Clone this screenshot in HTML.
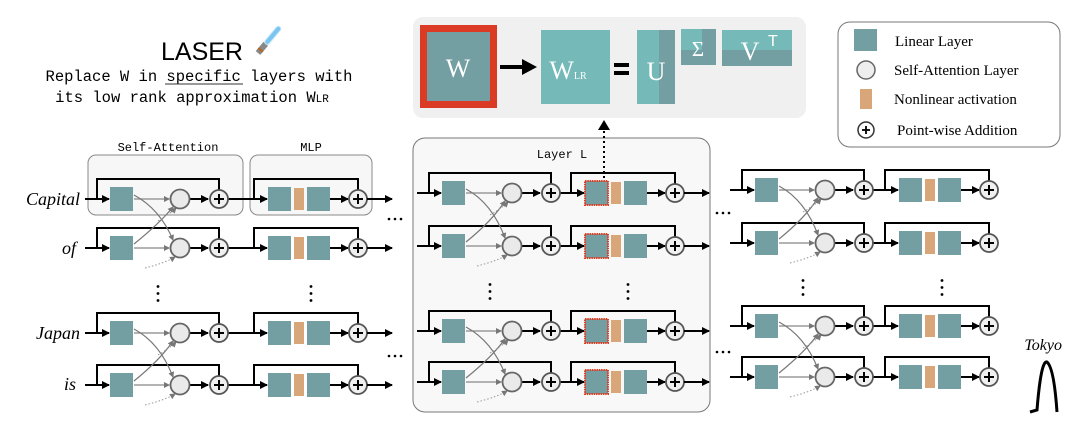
<!DOCTYPE html>
<html><head><meta charset="utf-8">
<style>
html,body{margin:0;padding:0;background:#fff;width:1080px;height:425px;overflow:hidden}
svg{display:block}
text{font-family:"Liberation Serif",serif}
</style></head><body>
<svg id="s" width="1080" height="425" viewBox="0 0 1080 425" xmlns="http://www.w3.org/2000/svg">
<defs>
<marker id="ab" markerWidth="8" markerHeight="8" refX="7" refY="4" orient="auto" markerUnits="userSpaceOnUse"><path d="M0,0 L8,4 L0,8 z" fill="#000"/></marker>
<marker id="ag" markerWidth="6" markerHeight="6" refX="5" refY="3" orient="auto" markerUnits="userSpaceOnUse"><path d="M0,0 L6,3 L0,6 z" fill="#777"/></marker>
</defs>
<text x="202" y="60" font-size="25" text-anchor="middle" style="font-family:'Liberation Sans',sans-serif">LASER</text>
<g transform="translate(258,53) rotate(-50)"><rect x="0" y="-3" width="12" height="6" fill="#888"/><rect x="12" y="-2.5" width="22" height="5" rx="2.5" fill="#7cc4f0" stroke="#bfe6ff"/><rect x="3" y="-3" width="2" height="6" fill="#b5651d"/></g>
<text x="199" y="81" font-size="15.5" text-anchor="middle" style="font-family:'Liberation Mono',monospace">Replace W in specific layers with</text>
<line x1="165" y1="84" x2="243" y2="84" stroke="#333" stroke-width="1"/>
<text x="192" y="102" font-size="15.5" text-anchor="middle" style="font-family:'Liberation Mono',monospace">its low rank approximation W<tspan font-size="11">LR</tspan></text>
<rect x="413" y="17" width="393" height="101" rx="10" fill="#f0f0f0"/>
<rect x="420" y="25" width="77" height="83" fill="#db3b24"/>
<rect x="427" y="32" width="63" height="69" fill="#739ea2"/>
<text x="458" y="77" font-size="26" fill="#fff" text-anchor="middle">W</text>
<line x1="500" y1="67" x2="525" y2="67" stroke="#000" stroke-width="4"/><path d="M522,59 L537,67 L522,75z" fill="#000"/>
<rect x="541" y="30" width="69" height="74" fill="#75b9b9"/>
<text x="568" y="79" font-size="26" fill="#fff" text-anchor="middle">W<tspan font-size="10">LR</tspan></text>
<rect x="614" y="63" width="15" height="4" fill="#000"/><rect x="614" y="71" width="15" height="4" fill="#000"/>
<rect x="637" y="30" width="22" height="74" fill="#75b9b9"/><rect x="659" y="30" width="16" height="74" fill="#739ea2"/>
<text x="656" y="80" font-size="26" fill="#fff" text-anchor="middle">U</text>
<rect x="681" y="29" width="35" height="36" fill="#739ea2"/><rect x="681" y="29" width="21" height="21" fill="#75b9b9"/>
<text x="698" y="56" font-size="21" fill="#fff" text-anchor="middle">Σ</text>
<rect x="722" y="30" width="70" height="36" fill="#739ea2"/><rect x="722" y="30" width="70" height="20" fill="#75b9b9"/>
<text x="750" y="60" font-size="26" fill="#fff" text-anchor="middle">V</text><text x="768" y="46" font-size="16" fill="#fff" style="font-family:'Liberation Sans',sans-serif">T</text>
<rect x="838" y="22" width="222" height="125" rx="12" fill="#fff" stroke="#777"/>
<rect x="854" y="29" width="23" height="22" fill="#739ea2"/>
<circle cx="866" cy="70" r="9" fill="#eee" stroke="#666" stroke-width="1.5"/>
<rect x="860" y="89" width="12" height="20" fill="#d9a679"/>
<circle cx="866" cy="130" r="8" fill="#fff" stroke="#333" stroke-width="1.5"/>
<line x1="862" y1="130" x2="870" y2="130" stroke="#000" stroke-width="1.8"/><line x1="866" y1="126" x2="866" y2="134" stroke="#000" stroke-width="1.8"/>
<text x="895" y="46" font-size="15">Linear Layer</text>
<text x="894" y="75" font-size="15">Self-Attention Layer</text>
<text x="894" y="104" font-size="15">Nonlinear activation</text>
<text x="897" y="135" font-size="15">Point-wise Addition</text>
<rect x="88" y="155" width="155" height="60" rx="8" fill="#f7f7f7" stroke="#888"/>
<rect x="250" y="155" width="122" height="60" rx="8" fill="#f7f7f7" stroke="#888"/>
<text x="168" y="151" font-size="12" text-anchor="middle" style="font-family:'Liberation Mono',monospace">Self-Attention</text>
<text x="311" y="151" font-size="12" text-anchor="middle" style="font-family:'Liberation Mono',monospace">MLP</text>
<rect x="413" y="138" width="297" height="274" rx="12" fill="#f8f8f8" stroke="#777"/>
<text x="562" y="158" font-size="12" text-anchor="middle" style="font-family:'Liberation Mono',monospace">Layer L</text>
<line x1="604" y1="178" x2="604" y2="128" stroke="#000" stroke-width="2" stroke-dasharray="2,3"/><path d="M598,130 L604,120 L610,130z" fill="#000"/>
<g font-size="18" font-style="italic" text-anchor="end">
<text x="80" y="205">Capital</text><text x="76" y="254">of</text><text x="80" y="339">Japan</text><text x="76" y="390">is</text>
<text x="1062" y="350" font-size="16">Tokyo</text>
</g>
<path d="M1030,412 L1037,410 Q1041,360 1047,362 Q1054,368 1057,412" fill="none" stroke="#000" stroke-width="3"/>
<g id="g"></g>
</svg>
<script>
var g=document.getElementById('g'),h='';
function L(x1,y1,x2,y2,w,m){h+='<line x1="'+x1+'" y1="'+y1+'" x2="'+x2+'" y2="'+y2+'" stroke="#000" stroke-width="'+(w||2)+'"'+(m?' marker-end="url(#ab)"':'')+'/>';}
function P(d,c,w,extra){h+='<path d="'+d+'" fill="none" stroke="'+c+'" stroke-width="'+w+'" '+(extra||'')+'/>';}
function plus(x,y){h+='<circle cx="'+x+'" cy="'+y+'" r="9" fill="#f0f0f0" stroke="#555" stroke-width="1.8"/><line x1="'+(x-5)+'" y1="'+y+'" x2="'+(x+5)+'" y2="'+y+'" stroke="#000" stroke-width="2"/><line x1="'+x+'" y1="'+(y-5)+'" x2="'+x+'" y2="'+(y+5)+'" stroke="#000" stroke-width="2"/>';}
function sq(x,y,red){h+='<rect x="'+x+'" y="'+(y-12)+'" width="23" height="24" fill="#739ea2"'+(red?' stroke="#e03a20" stroke-width="2" stroke-dasharray="1.5,0.8"':'')+'/>';}
function group(ao,mo,rows,red,last){
 for(var i=0;i<4;i++){var y=rows[i];
  L(ao+85,y,ao+109,y,2,1);
  P('M'+(ao+97)+','+y+' V'+(y-20)+' H'+(ao+219)+' V'+(y-9),'#000',2);
  sq(ao+110,y);
  h+='<line x1="'+(ao+134)+'" y1="'+y+'" x2="'+(ao+169)+'" y2="'+y+'" stroke="#888" stroke-width="1.2" marker-end="url(#ag)"/>';
  L(ao+189,y,ao+208,y,2,1);
  L(ao+228,y,mo+256,y,2,0);
 }
 for(var p=0;p<4;p+=2){var a=rows[p],b=rows[p+1];
  P('M'+(ao+134)+','+(a-4)+' Q'+(ao+160)+','+(a+10)+' '+(ao+173)+','+(b-8),'#777',1.2,'marker-end="url(#ag)"');
  P('M'+(ao+134)+','+(b-4)+' Q'+(ao+160)+','+(b-25)+' '+(ao+173)+','+(a+8),'#777',1.2,'marker-end="url(#ag)"');
  P('M'+(ao+158)+','+(a+22)+' Q'+(ao+170)+','+(a+15)+' '+(ao+176)+','+(a+9),'#999',1,'stroke-dasharray="1.5,2" marker-end="url(#ag)"');
  P('M'+(ao+145)+','+(b+20)+' Q'+(ao+165)+','+(b+15)+' '+(ao+175)+','+(b+9),'#999',1,'stroke-dasharray="1.5,2" marker-end="url(#ag)"');
 }
 for(var i=0;i<4;i++){var y=rows[i];
  h+='<circle cx="'+(ao+180)+'" cy="'+y+'" r="9.5" fill="#eaeaea" stroke="#666" stroke-width="1.8"/>';
  plus(ao+219,y);
  L(mo+256,y,mo+267,y,2,1);
  P('M'+(mo+254)+','+y+' V'+(y-20)+' H'+(mo+358)+' V'+(y-9),'#000',2);
  sq(mo+268,y,red);
  h+='<rect x="'+(mo+294)+'" y="'+(y-11)+'" width="10" height="22" fill="#d9a679"/>';
  sq(mo+307,y);
  L(mo+330,y,mo+348,y,2,1);
  plus(mo+358,y);
  if(!last)L(mo+367,y,mo+392,y,2,1);
 }
 var my=(rows[1]+rows[2])/2+3;
 [ao+158,mo+311].forEach(function(x){for(var k=-1;k<=1;k++)h+='<circle cx="'+x+'" cy="'+(my+k*7)+'" r="1.4" fill="#000"/>';});
}
group(0,0,[199,248,333,385]);
group(332,317,[193,246,331,382],true);
group(645,631,[190,243,326,377],false,true);
function hd(x,y){for(var k=0;k<3;k++)h+='<circle cx="'+(x+k*6)+'" cy="'+y+'" r="1.3" fill="#000"/>';}
hd(389,219);hd(389,356);hd(717,213);hd(717,352);
g.innerHTML=h;
</script>
</body></html>
